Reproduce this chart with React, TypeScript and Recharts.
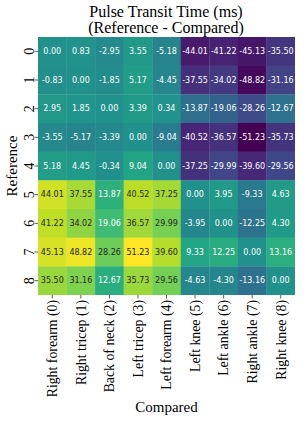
import React from 'react';
import { ScatterChart, Scatter, XAxis, YAxis } from 'recharts';

// body parts compared against each reference
const CATEGORIES = [
  'Right forearm (0)',
  'Right tricep (1)',
  'Back of neck (2)',
  'Left tricep (3)',
  'Left forearm (4)',
  'Left knee (5)',
  'Left ankle (6)',
  'Right ankle (7)',
  'Right knee (8)',
];
const Y_TICKS = [0, 1, 2, 3, 4, 5, 6, 7, 8];

// PTT difference (ms), one row per reference
const ROW_0 = [0.0, 0.83, -2.95, 3.55, -5.18, -44.01, -41.22, -45.13, -35.5];
const ROW_1 = [-0.83, 0.0, -1.85, 5.17, -4.45, -37.55, -34.02, -48.82, -31.16];
const ROW_2 = [2.95, 1.85, 0.0, 3.39, 0.34, -13.87, -19.06, -28.26, -12.67];
const ROW_3 = [-3.55, -5.17, -3.39, 0.0, -9.04, -40.52, -36.57, -51.23, -35.73];
const ROW_4 = [5.18, 4.45, -0.34, 9.04, 0.0, -37.25, -29.99, -39.6, -29.56];
const ROW_5 = [44.01, 37.55, 13.87, 40.52, 37.25, 0.0, 3.95, -9.33, 4.63];
const ROW_6 = [41.22, 34.02, 19.06, 36.57, 29.99, -3.95, 0.0, -12.25, 4.3];
const ROW_7 = [45.13, 48.82, 28.26, 51.23, 39.6, 9.33, 12.25, 0.0, 13.16];
const ROW_8 = [35.5, 31.16, 12.67, 35.73, 29.56, -4.63, -4.3, -13.16, 0.0];

const ROWS = [ROW_0, ROW_1, ROW_2, ROW_3, ROW_4, ROW_5, ROW_6, ROW_7, ROW_8];

const VMIN = -51.23;
const VMAX = 51.23;

const W = 307;
const H = 421;
const PLOT_LEFT = 38;
const PLOT_TOP = 37;
const PLOT_RIGHT = 295;
const PLOT_BOTTOM = 295;
const CELL_W = (PLOT_RIGHT - PLOT_LEFT) / CATEGORIES.length;
const CELL_H = (PLOT_BOTTOM - PLOT_TOP) / Y_TICKS.length;

const SERIF = '"Liberation Serif", "DejaVu Serif", serif';

const VIRIDIS = [
  '#440154', '#482475', '#414487', '#355f8d', '#2a788e', '#21918c',
  '#22a884', '#44bf70', '#7ad151', '#bddf26', '#fde725',
];

function hexToRgb(h: string) {
  return [1, 3, 5].map((i) => parseInt(h.slice(i, i + 2), 16));
}

function viridis(v: number): [number, number, number] {
  const t = Math.min(1, Math.max(0, (v - VMIN) / (VMAX - VMIN)));
  const p = t * (VIRIDIS.length - 1);
  const i = Math.min(VIRIDIS.length - 2, Math.floor(p));
  const f = p - i;
  const a = hexToRgb(VIRIDIS[i]);
  const b = hexToRgb(VIRIDIS[i + 1]);
  return [0, 1, 2].map((k) => Math.round(a[k] + (b[k] - a[k]) * f)) as [number, number, number];
}

function luminance(rgb: number[]) {
  const lin = rgb.map((c) => {
    const s = c / 255;
    return s <= 0.03928 ? s / 12.92 : Math.pow((s + 0.055) / 1.055, 2.4);
  });
  return 0.2126 * lin[0] + 0.7152 * lin[1] + 0.0722 * lin[2];
}

const cells = ROWS.flatMap((row, r) => row.map((v, c) => ({ x: c, y: r, v })));

const HeatCell = (props: any) => {
  const { cx, cy, payload } = props;
  if (cx == null || cy == null) return null;
  const rgb = viridis(payload.v);
  const fill = `rgb(${rgb[0]},${rgb[1]},${rgb[2]})`;
  const textColor = luminance(rgb) > 0.408 ? '#262626' : '#ffffff';
  return (
    <g>
      <rect x={cx - CELL_W / 2} y={cy - CELL_H / 2} width={CELL_W + 0.3} height={CELL_H + 0.3} fill={fill} />
      <text
        x={cx}
        y={cy}
        dy="0.35em"
        textAnchor="middle"
        fontSize={8}
        fontFamily="DejaVu Sans, sans-serif"
        fill={textColor}
      >
        {payload.v.toFixed(2)}
      </text>
    </g>
  );
};

const XTick = ({ x, y, payload }: any) => (
  <g transform={`translate(${x},${y})`}>
    <line x1={0} x2={0} y1={0} y2={3.5} stroke="#333" strokeWidth={0.8} />
    <text
      transform="rotate(-90)"
      x={-5}
      y={0}
      dy="0.35em"
      textAnchor="end"
      fontSize={13.8}
      fontFamily={SERIF}
      fill="#000"
    >
      {CATEGORIES[payload.value]}
    </text>
  </g>
);

const YTick = ({ x, y, payload }: any) => (
  <g transform={`translate(${x},${y})`}>
    <line x1={-3.5} x2={0} y1={0} y2={0} stroke="#333" strokeWidth={0.8} />
    <text
      transform="translate(-9,0) rotate(-90)"
      x={0}
      y={0}
      dy="0.35em"
      textAnchor="middle"
      fontSize={14}
      fontFamily={SERIF}
      fill="#000"
    >
      {payload.value}
    </text>
  </g>
);

export default function App() {
  return (
    <div style={{ position: 'absolute', left: 0, top: 0, width: W, height: H, background: '#fff' }}>
      <ScatterChart
        width={W}
        height={H}
        margin={{ top: PLOT_TOP, right: W - PLOT_RIGHT, left: 0, bottom: 0 }}
      >
        <XAxis
          type="number"
          dataKey="x"
          domain={[-0.5, 8.5]}
          ticks={Y_TICKS}
          interval={0}
          height={H - PLOT_BOTTOM}
          axisLine={false}
          tickLine={false}
          tickSize={0}
          tickMargin={0}
          tick={<XTick />}
          allowDataOverflow
        />
        <YAxis
          type="number"
          dataKey="y"
          domain={[-0.5, 8.5]}
          ticks={Y_TICKS}
          interval={0}
          reversed
          width={PLOT_LEFT}
          axisLine={false}
          tickLine={false}
          tickSize={0}
          tickMargin={0}
          tick={<YTick />}
          allowDataOverflow
        />
        <Scatter data={cells} shape={<HeatCell />} isAnimationActive={false} />
      </ScatterChart>
      <svg
        width={W}
        height={H}
        style={{ position: 'absolute', left: 0, top: 0, pointerEvents: 'none' }}
      >
        <text x={166} y={17} textAnchor="middle" fontSize={16} fontFamily={SERIF} fill="#000">
          Pulse Transit Time (ms)
        </text>
        <text x={166} y={33} textAnchor="middle" fontSize={16} fontFamily={SERIF} fill="#000">
          (Reference - Compared)
        </text>
        <text
          transform={`translate(12,${(PLOT_TOP + PLOT_BOTTOM) / 2}) rotate(-90)`}
          textAnchor="middle"
          dy="0.35em"
          fontSize={15}
          fontFamily={SERIF}
          fill="#000"
        >
          Reference
        </text>
        <text x={(PLOT_LEFT + PLOT_RIGHT) / 2} y={412} textAnchor="middle" fontSize={15} fontFamily={SERIF} fill="#000">
          Compared
        </text>
      </svg>
    </div>
  );
}
